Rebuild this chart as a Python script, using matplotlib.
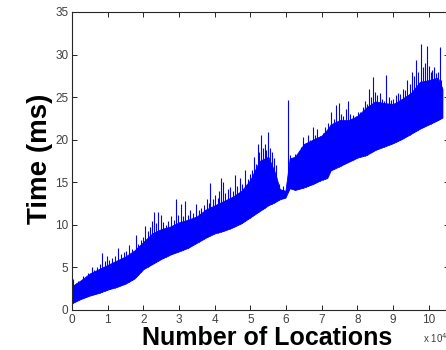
import numpy as np
import matplotlib.pyplot as plt

plt.rcParams['font.family'] = ['Liberation Sans', 'DejaVu Sans']

# x positions (x 10^4 locations) for the dense band
band_x = [0.0, 0.25, 0.5, 0.75, 1.0, 1.25, 1.5, 1.75, 2.0, 2.25, 2.5, 2.75,
          3.0, 3.25, 3.5, 3.75, 4.0, 4.25, 4.5, 4.75, 5.0, 5.25, 5.5, 5.7,
          5.82, 5.98, 6.1, 6.25, 6.5, 6.75, 7.0, 7.15, 7.25, 7.5, 7.75, 8.0,
          8.25, 8.5, 8.75, 9.0, 9.25, 9.5, 9.75, 10.0, 10.25, 10.38]
# lower edge of the band (ms)
band_lo = [0.8, 1.3, 1.7, 2.0, 2.4, 2.7, 3.1, 3.7, 4.8, 5.4, 6.0, 6.5,
           6.9, 7.3, 7.9, 8.5, 9.0, 9.3, 9.7, 10.2, 10.9, 11.6, 12.3, 12.7,
           13.0, 13.2, 14.3, 14.1, 14.4, 14.8, 15.3, 15.5, 16.4, 16.9, 17.4, 17.9,
           18.2, 18.8, 19.2, 19.6, 20.1, 20.7, 21.3, 21.8, 22.3, 22.6]
# upper edge of the dense part of the band (ms)
band_hi = [2.8, 3.5, 4.3, 4.8, 5.3, 5.8, 6.3, 7.0, 8.0, 9.0, 9.5, 9.8,
           10.3, 10.6, 11.0, 11.8, 12.3, 12.8, 13.3, 14.0, 15.3, 17.5, 18.0, 16.0,
           14.2, 14.0, 17.8, 18.0, 19.5, 20.0, 20.5, 21.2, 21.8, 22.3, 22.3, 22.8,
           23.8, 24.5, 24.3, 24.2, 24.8, 25.5, 26.8, 27.0, 27.3, 26.0]

# individual spikes above the band
spike_x = [0.03, 0.1, 0.18, 0.3, 0.38, 0.46, 0.55, 0.62, 0.7, 0.78, 0.85, 0.92,
           0.97, 1.05, 1.12, 1.2, 1.3, 1.38, 1.45, 1.52, 1.6, 1.68, 1.78, 1.85,
           1.92, 2.0,
           2.05, 2.12, 2.18, 2.25, 2.3, 2.36, 2.42, 2.48, 2.55, 2.62, 2.7, 2.77,
           2.85, 2.92, 2.98, 3.05, 3.12, 3.18, 3.25, 3.32, 3.4, 3.47, 3.55, 3.62,
           3.7, 3.77, 3.83, 3.88, 3.95, 4.0,
           4.08, 4.13, 4.18, 4.24, 4.3, 4.37, 4.42, 4.5, 4.57, 4.63, 4.7, 4.77,
           4.85, 4.92, 4.98, 5.05, 5.1, 5.16, 5.2, 5.25, 5.3, 5.35, 5.4, 5.45,
           5.5, 5.55, 5.6, 5.66, 5.72, 5.8, 5.9,
           6.06, 6.12, 6.18, 6.24, 6.3, 6.36, 6.42, 6.48, 6.55, 6.62, 6.68, 6.75,
           6.82, 6.87, 6.95, 7.02, 7.1, 7.17, 7.27, 7.33, 7.4, 7.47, 7.53, 7.6,
           7.67, 7.72, 7.8, 7.87, 7.95, 8.02,
           8.08, 8.15, 8.2, 8.27, 8.33, 8.39, 8.44, 8.5, 8.56, 8.62, 8.68, 8.74,
           8.8, 8.87, 8.94, 9.0, 9.07, 9.13, 9.2, 9.27, 9.33, 9.4, 9.46, 9.52,
           9.58, 9.65, 9.7, 9.77, 9.83, 9.88, 9.94, 10.0, 10.05, 10.1, 10.15, 10.2,
           10.25, 10.3, 10.35]
spike_y = [3.6, 3.2, 3.4, 4.0, 3.8, 4.4, 5.0, 4.7, 5.0, 5.4, 6.7, 5.8,
           6.3, 5.9, 6.1, 6.4, 7.3, 6.6, 6.8, 6.9, 7.6, 7.2, 8.8, 7.8,
           8.2, 8.6,
           9.9, 9.3, 9.7, 10.4, 11.5, 10.2, 11.5, 11.2, 10.3, 10.0, 10.4, 11.0,
           10.6, 13.0, 11.2, 12.5, 11.0, 12.8, 11.2, 11.8, 11.4, 12.5, 11.8, 12.0,
           12.3, 13.0, 12.6, 14.9, 13.0, 13.5,
           13.2, 14.0, 15.5, 15.0, 13.8, 14.2, 14.5, 14.0, 15.9, 14.6, 15.5, 14.8,
           16.4, 15.4, 16.0, 16.5, 18.0, 17.2, 19.5, 18.6, 20.6, 19.0, 19.5, 18.8,
           20.9, 19.0, 18.5, 17.8, 17.0, 14.8, 14.6,
           24.7, 18.2, 17.8, 18.3, 18.0, 18.7, 19.2, 20.3, 19.6, 20.6, 20.0, 21.5,
           20.5, 21.3, 20.4, 20.8, 21.5, 22.0, 23.3, 22.4, 24.1, 24.3, 23.0, 22.8,
           23.6, 24.5, 23.0, 22.9, 22.8, 23.2,
           23.3, 23.8, 24.5, 24.2, 26.0, 25.0, 27.4, 25.6, 25.2, 25.5, 24.8, 24.5,
           27.6, 25.0, 24.7, 24.8, 25.2, 25.5, 25.4, 26.0, 25.8, 27.0, 26.5, 28.0,
           27.5, 29.4, 28.0, 31.3, 28.5, 29.0, 31.0, 28.6, 28.0, 28.2, 28.5, 27.8,
           28.0, 30.9, 27.0]

x_ticks = list(range(0, 11))
y_ticks = list(range(0, 36, 5))

fig = plt.figure(figsize=(4.46, 3.5), dpi=100)
ax = fig.add_axes([72 / 446, 40 / 350, 376.5 / 446, 298 / 350])

blue = '#0000ff'
ax.fill_between(band_x, band_lo, band_hi, color=blue, lw=0.6)
spike_base = np.interp(spike_x, band_x, band_lo)
ax.vlines(spike_x, spike_base, spike_y, color=blue, lw=0.8)

ax.set_xlim(0, 10.55)
ax.set_ylim(0, 35)
ax.set_xticks(x_ticks)
ax.set_yticks(y_ticks)

for s in ax.spines.values():
    s.set_color('#262626')
    s.set_linewidth(0.8)
ax.tick_params(direction='in', length=3.5, width=0.7, color='#262626',
               top=True, right=True, labelsize=8.5, labelcolor='#404040')
ax.tick_params(axis='y', pad=2.5)
ax.tick_params(axis='x', pad=3)

fig.text(267.5 / 446, 1 - 345 / 350, 'Number of Locations', ha='center',
         va='baseline', fontsize=18, fontweight='bold')
fig.text(40 / 446, 1 - 158.5 / 350, 'Time (ms)', ha='center', va='center',
         rotation=90, fontsize=20, fontweight='bold')
fig.text(423 / 446, 1 - 345 / 350, 'x 10$^4$', ha='left', va='bottom',
         fontsize=7, color='#404040')

fig.savefig('out.png', dpi=100)
